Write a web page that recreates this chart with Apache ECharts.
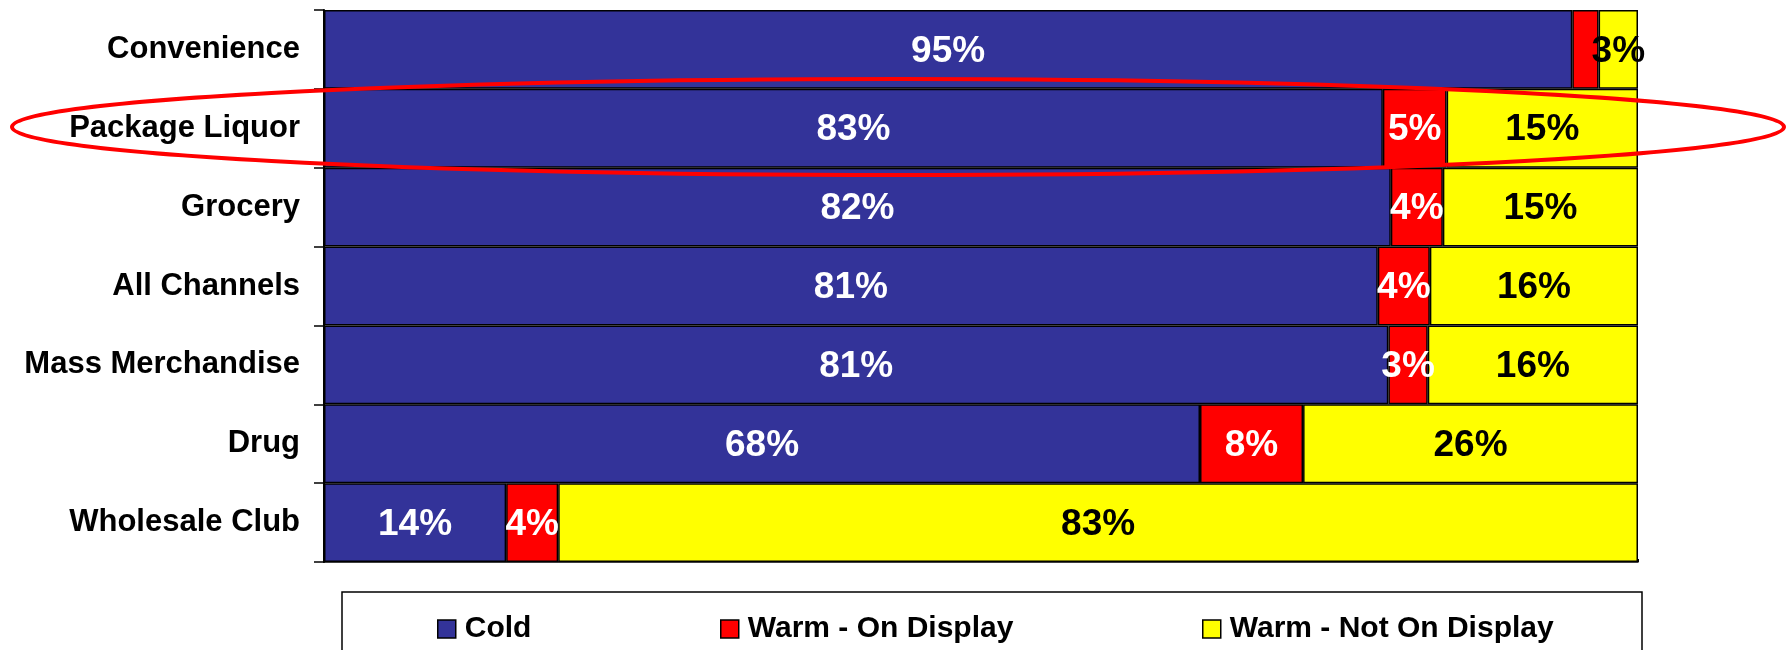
<!DOCTYPE html>
<html>
<head>
<meta charset="utf-8">
<script src="https://cdn.jsdelivr.net/npm/echarts@6/dist/echarts.min.js"></script>
<style>
  html, body { margin: 0; padding: 0; background: #fff; }
  #chart { width: 1787px; height: 650px; }
</style>
</head>
<body>
<div id="chart"></div>
<script>
// Channels, top to bottom
const categories = ['Convenience', 'Package Liquor', 'Grocery', 'All Channels', 'Mass Merchandise', 'Drug', 'Wholesale Club'];

// Reported shares (%) per channel
const cold          = [95, 83, 82, 81, 81, 68, 14];
const warmOnDisplay = [2, 5, 4, 4, 3, 8, 4];
const warmNotOn     = [3, 15, 15, 16, 16, 26, 83];

// Segments whose label is left off (too narrow)
const hiddenLabels = [['Convenience', 'Warm - On Display']];

const seriesNames = ['Cold', 'Warm - On Display', 'Warm - Not On Display'];
const seriesValues = [cold, warmOnDisplay, warmNotOn];
const colors = ['#333399', '#FF0000', '#FFFF00'];
const labelColors = ['#FFFFFF', '#FFFFFF', '#000000'];

const FONT = '"Liberation Sans", Arial, sans-serif';

// Each row is drawn as a 100% stacked bar
const totals = categories.map((_, i) => seriesValues.reduce((s, arr) => s + arr[i], 0));

const series = seriesNames.map((name, k) => ({
  name,
  type: 'bar',
  stack: 'share',
  barWidth: '100%',
  itemStyle: { color: colors[k], borderColor: '#000', borderWidth: 1.5 },
  label: {
    show: true,
    position: 'inside',
    offset: [0, 2],
    color: labelColors[k],
    fontFamily: FONT,
    fontWeight: 'bold',
    fontSize: 37,
    formatter: p => p.data.raw + '%'
  },
  data: seriesValues[k].map((v, i) => {
    const hide = hiddenLabels.some(h => h[0] === categories[i] && h[1] === name);
    const item = { value: v / totals[i] * 100, raw: v };
    if (hide) item.label = { show: false };
    return item;
  })
}));

// One legend block per series so each entry sits at its own spot in the box
const legendLefts = [437, 720, 1202];
const legends = seriesNames.map((name, k) => ({
  data: [name],
  left: legendLefts[k],
  top: 614,
  padding: 0,
  itemWidth: 18,
  itemHeight: 18,
  icon: 'rect',
  itemStyle: { borderColor: '#000', borderWidth: 1.5 },
  textStyle: {
    color: '#000',
    fontFamily: FONT,
    fontWeight: 'bold',
    fontSize: 30,
    padding: [2, 0, 0, 4]
  }
}));

const chart = echarts.init(document.getElementById('chart'), null, { renderer: 'canvas' });
chart.setOption({
  animation: false,
  backgroundColor: '#fff',
  grid: { left: 324, right: 149, top: 10, bottom: 88, containLabel: false },
  xAxis: {
    type: 'value',
    min: 0,
    max: 100,
    interval: 20,
    axisLine: { show: true, lineStyle: { color: '#000', width: 1.5 } },
    axisTick: { show: true, inside: true, length: 3, lineStyle: { color: '#000' } },
    axisLabel: { show: false },
    splitLine: { show: false }
  },
  yAxis: {
    type: 'category',
    data: categories,
    inverse: true,
    axisLine: { show: true, lineStyle: { color: '#000', width: 2 } },
    axisTick: { show: true, length: 10, lineStyle: { color: '#000', width: 1.5 } },
    axisLabel: {
      margin: 24,
      color: '#000',
      fontFamily: FONT,
      fontWeight: 'bold',
      fontSize: 31,
      padding: [4, 0, 0, 0]
    }
  },
  legend: legends,
  graphic: [
    {
      type: 'rect',
      z: 0,
      shape: { x: 342, y: 592, width: 1300, height: 90 },
      style: { fill: '#fff', stroke: '#000', lineWidth: 1.5 }
    },
    {
      type: 'ellipse',
      z: 100,
      shape: { cx: 898, cy: 127, rx: 886, ry: 48 },
      style: { fill: null, stroke: '#FF0000', lineWidth: 4 }
    }
  ],
  series
});
</script>
</body>
</html>
